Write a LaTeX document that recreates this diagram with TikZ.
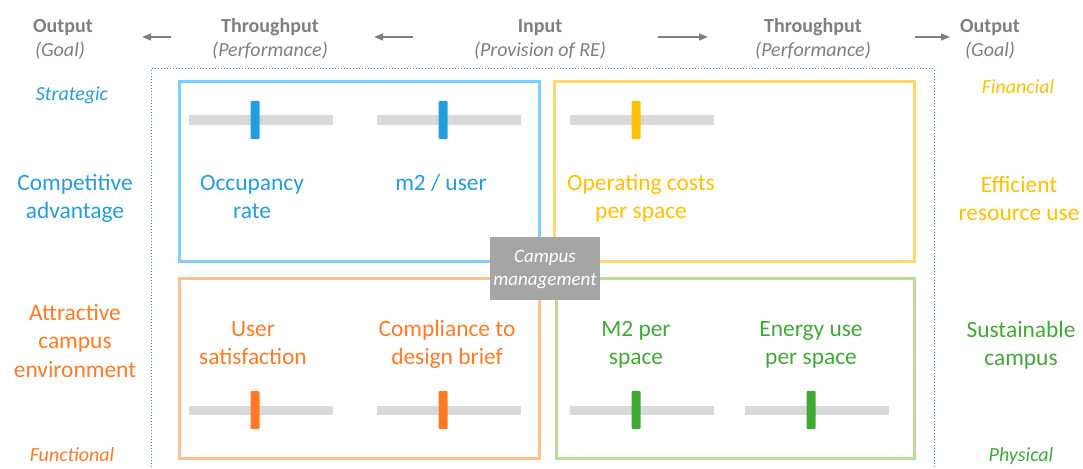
\documentclass[tikz,border=0pt]{standalone}
\usepackage{fontspec}
\setmainfont{Carlito}
\usetikzlibrary{arrows.meta}
\definecolor{hdr}{RGB}{127,127,127}
\definecolor{cblue}{RGB}{35,158,220}
\definecolor{lblue}{RGB}{125,205,255}
\definecolor{cyel}{RGB}{255,192,0}
\definecolor{lyel}{RGB}{255,217,105}
\definecolor{corg}{RGB}{255,122,35}
\definecolor{lorg}{RGB}{255,192,145}
\definecolor{cgrn}{RGB}{62,170,52}
\definecolor{lgrn}{RGB}{185,220,150}
\definecolor{track}{RGB}{217,217,217}
\definecolor{dotc}{RGB}{45,130,200}
\definecolor{cm}{RGB}{165,165,165}
\begin{document}
\begin{tikzpicture}[x=1pt,y=-1pt,
  hd/.style={font=\fontsize{20}{23}\selectfont\bfseries, text=hdr, anchor=base, inner sep=0},
  sub/.style={font=\fontsize{20}{23}\selectfont\itshape, text=hdr, anchor=base, inner sep=0},
  corner/.style={font=\fontsize{20}{23}\selectfont\itshape, anchor=base, inner sep=0},
  lab/.style={font=\fontsize{23.4}{28}\selectfont, anchor=base, inner sep=0},
  hdarrow/.style={draw=hdr, line width=1.2pt, -{Triangle[length=9pt,width=7pt]}},
  box/.style={line width=3pt},
  trk/.style={fill=track},
  hdl/.style={rounded corners=1pt}
]
\useasboundingbox (0,0) rectangle (1083,468);
% header
\node[hd] (o1) at (63,33) {Output};
\node[sub] (g1) at (60,57) {(Goal)};
\node[hd] (t1) at (270,33) {Throughput};
\node[sub] (p1) at (270,57) {(Performance)};
\node[hd] (in) at (540,33) {Input};
\node[sub] (pr) at (540,57) {(Provision of RE)};
\node[hd] (t2) at (813,33) {Throughput};
\node[sub] (p2) at (813,57) {(Performance)};
\node[hd] (o2) at (990,33) {Output};
\node[sub] (g2) at (990,57) {(Goal)};
\coordinate (a1s) at (171,37); \coordinate (a1e) at (142,37);
\coordinate (a2s) at (413,37); \coordinate (a2e) at (374,37);
\coordinate (a3s) at (658,37); \coordinate (a3e) at (708,37);
\coordinate (a4s) at (915,37); \coordinate (a4e) at (950,37);
\draw[hdarrow] (a1s) -- (a1e);
\draw[hdarrow] (a2s) -- (a2e);
\draw[hdarrow] (a3s) -- (a3e);
\draw[hdarrow] (a4s) -- (a4e);
% dotted frame
\draw[dotc, dotted, line width=1pt] (151,470) -- (151,69) -- (934,69) -- (934,470);
% boxes
\draw[box, lblue] (179.5,81.5) rectangle (539.5,261);
\draw[box, lyel] (554.5,81.5) rectangle (914.5,261);
\draw[box, lorg] (179.5,278.5) rectangle (539.5,458);
\draw[box, lgrn] (556.5,278.5) rectangle (914.5,458);
% campus management
\node[fill=cm, minimum width=110pt, minimum height=63pt, inner sep=0] (camp) at (545,268.5) {};
\node[font=\fontsize{19}{23}\selectfont\itshape, text=white, anchor=base, inner sep=0] (camp1) at (545,262) {Campus};
\node[font=\fontsize{19}{23}\selectfont\itshape, text=white, anchor=base, inner sep=0] (camp2) at (545,285) {management};
% sliders
\foreach \tx/\ty/\hx/\c/\nm in {189/120/255/cblue/s1, 377/120/443/cblue/s2, 570/120/636/cyel/s3,
  189/410/255/corg/s4, 377/410/443/corg/s5, 570/410/636/cgrn/s6, 745/410/811/cgrn/s7}{
  \fill[trk] (\tx,\ty-4.5) rectangle ++(144,9);
  \fill[\c, hdl] (\hx-4.5,\ty-19) rectangle ++(9,38);
}
% left labels
\node[corner, text=cblue] (strat) at (72,101) {Strategic};
\node[lab, text=cblue] (ca1) at (75,190) {Competitive};
\node[lab, text=cblue] (ca2) at (75,218) {advantage};
\node[lab, text=corg] (ac1) at (75,320) {Attractive};
\node[lab, text=corg] (ac2) at (75,348) {campus};
\node[lab, text=corg] (ac3) at (75,377) {environment};
\node[corner, text=corg] (func) at (72,461) {Functional};
% right labels
\node[corner, text=cyel] (fin) at (1018,94) {Financial};
\node[lab, text=cyel] (er1) at (1019,192) {Efficient};
\node[lab, text=cyel] (er2) at (1019,220) {resource use};
\node[lab, text=cgrn] (sc1) at (1021,337) {Sustainable};
\node[lab, text=cgrn] (sc2) at (1021,365) {campus};
\node[corner, text=cgrn] (phys) at (1021,461) {Physical};
% box texts
\node[lab, text=cblue] (oc1) at (252,190) {Occupancy};
\node[lab, text=cblue] (oc2) at (252,218) {rate};
\node[lab, text=cblue] (mu) at (441,190) {m2 / user};
\node[lab, text=cyel] (op1) at (641,190) {Operating costs};
\node[lab, text=cyel] (op2) at (641,218) {per space};
\node[lab, text=corg] (us1) at (253,336) {User};
\node[lab, text=corg] (us2) at (253,364) {satisfaction};
\node[lab, text=corg] (cd1) at (447,336) {Compliance to};
\node[lab, text=corg] (cd2) at (447,364) {design brief};
\node[lab, text=cgrn] (ms1) at (636,336) {M2 per};
\node[lab, text=cgrn] (ms2) at (636,364) {space};
\node[lab, text=cgrn] (en1) at (811,336) {Energy use};
\node[lab, text=cgrn] (en2) at (811,364) {per space};
\end{tikzpicture}
\end{document}
